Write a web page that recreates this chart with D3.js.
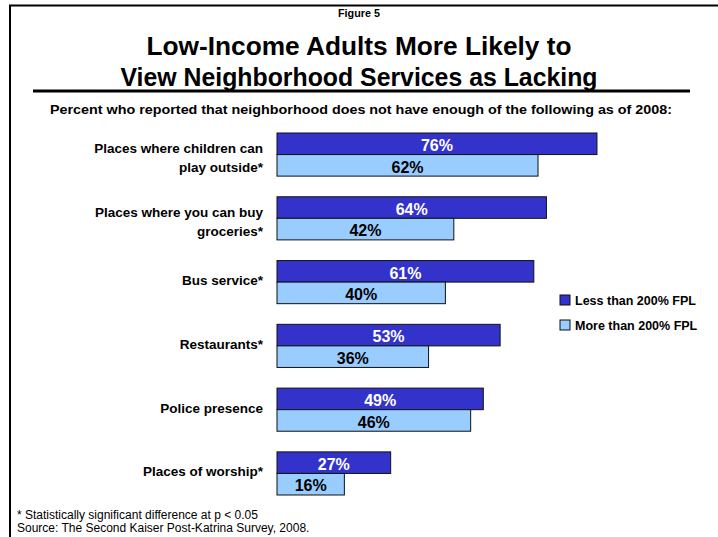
<!DOCTYPE html>
<html>
<head>
<meta charset="utf-8">
<script src="https://cdn.jsdelivr.net/npm/d3@7"></script>
<style>
  html, body { margin: 0; padding: 0; background: #fff; }
  svg { display: block; font-family: "Liberation Sans", Arial, sans-serif; }
</style>
</head>
<body>
<svg id="chart" width="718" height="537"></svg>
<script>
// Neighborhood services reported as lacking, by income group (percent)
const categories = [
  ["Places where children can", "play outside*"],
  ["Places where you can buy", "groceries*"],
  ["Bus service*"],
  ["Restaurants*"],
  ["Police presence"],
  ["Places of worship*"]
];
const seriesNames = ["Less than 200% FPL", "More than 200% FPL"];
const lowIncome = [76, 64, 61, 53, 49, 27];
const higherIncome = [62, 42, 40, 36, 46, 16];
const seriesColors = ["#3333CC", "#99CCFF"];
const labelColors = ["#FFFFFF", "#000000"];

const svg = d3.select("#chart");

// Frame lines along the top and left edges
svg.append("line").attr("x1", 9).attr("x2", 718).attr("y1", 5.5).attr("y2", 5.5)
  .attr("stroke", "#000").attr("stroke-width", 2);
svg.append("line").attr("x1", 10).attr("x2", 10).attr("y1", 5).attr("y2", 537)
  .attr("stroke", "#000").attr("stroke-width", 2);

// Titles (condensed bold)
svg.append("text").attr("x", 359).attr("y", 17).attr("text-anchor", "middle")
  .attr("font-size", 11).attr("font-weight", "bold")
  .attr("textLength", 42).attr("lengthAdjust", "spacingAndGlyphs")
  .text("Figure 5");
const titleLines = ["Low-Income Adults More Likely to", "View Neighborhood Services as Lacking"];
const titleWidths = [425, 477];
svg.selectAll("text.title").data(titleLines).enter().append("text")
  .attr("class", "title")
  .attr("x", 359).attr("y", (d, i) => 55 + i * 31)
  .attr("text-anchor", "middle")
  .attr("font-size", 26.5).attr("font-weight", "bold")
  .attr("textLength", (d, i) => titleWidths[i]).attr("lengthAdjust", "spacingAndGlyphs")
  .text(d => d);
svg.append("line").attr("x1", 33).attr("x2", 690).attr("y1", 91).attr("y2", 91)
  .attr("stroke", "#000").attr("stroke-width", 3);
svg.append("text").attr("x", 361).attr("y", 113.5).attr("text-anchor", "middle")
  .attr("font-size", 13).attr("font-weight", "bold")
  .attr("textLength", 622).attr("lengthAdjust", "spacingAndGlyphs")
  .text("Percent who reported that neighborhood does not have enough of the following as of 2008:");

// Scales
const x = d3.scaleLinear().domain([0, 100]).range([277, 698]);
const y = d3.scaleBand().domain(d3.range(categories.length)).range([133, 495]).paddingInner(0.324).paddingOuter(0);
const sub = d3.scaleBand().domain([0, 1]).range([0, y.bandwidth()]);

const rows = categories.map((c, i) => ({ i, label: c, values: [lowIncome[i], higherIncome[i]] }));

const g = svg.selectAll("g.group").data(rows).enter().append("g")
  .attr("class", "group")
  .attr("transform", d => `translate(0,${y(d.i)})`);

// Bars
g.selectAll("rect").data(d => d.values.map((v, s) => ({ v, s }))).enter().append("rect")
  .attr("x", x(0))
  .attr("y", d => sub(d.s))
  .attr("width", d => x(d.v) - x(0))
  .attr("height", sub.bandwidth())
  .attr("fill", d => seriesColors[d.s])
  .attr("stroke", "#111")
  .attr("stroke-width", 1);

// Value labels
g.selectAll("text.val").data(d => d.values.map((v, s) => ({ v, s }))).enter().append("text")
  .attr("class", "val")
  .attr("x", d => (x(0) + x(d.v)) / 2)
  .attr("y", d => sub(d.s) + sub.bandwidth() / 2 + 1.5)
  .attr("dy", "0.36em")
  .attr("text-anchor", "middle")
  .attr("font-size", 16).attr("font-weight", "bold")
  .attr("fill", d => labelColors[d.s])
  .text(d => d.v + "%");

// Category labels
g.each(function (d) {
  const n = d.label.length;
  const t = d3.select(this).append("text")
    .attr("text-anchor", "end")
    .attr("font-size", 13.5).attr("font-weight", "bold");
  d.label.forEach((line, k) => {
    t.append("tspan")
      .attr("x", 263)
      .attr("y", y.bandwidth() / 2 + (n > 1 ? 3 + (k - (n - 1) / 2) * 19 : -2))
      .attr("dy", "0.36em")
      .text(line);
  });
});

// Legend
const legend = svg.selectAll("g.legend").data(seriesNames).enter().append("g")
  .attr("class", "legend")
  .attr("transform", (d, i) => `translate(560,${295 + i * 25})`);
legend.append("rect").attr("width", 10).attr("height", 10)
  .attr("fill", (d, i) => seriesColors[i]).attr("stroke", "#111").attr("stroke-width", 1);
legend.append("text").attr("x", 15).attr("y", 5).attr("dy", "0.36em")
  .attr("font-size", 12.5).attr("font-weight", "bold").text(d => d);

// Footnotes
const notes = ["* Statistically significant difference at p < 0.05",
               "Source: The Second Kaiser Post-Katrina Survey, 2008."];
svg.selectAll("text.note").data(notes).enter().append("text")
  .attr("class", "note")
  .attr("x", 17).attr("y", (d, i) => 519 + i * 13)
  .attr("font-size", 12).text(d => d);
</script>
</body>
</html>
